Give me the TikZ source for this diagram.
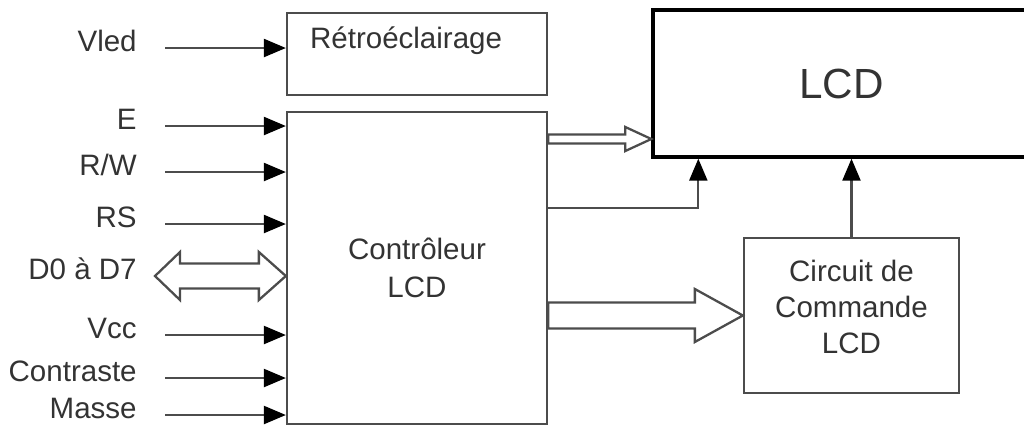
\documentclass[tikz,border=0pt]{standalone}
\usepackage{fontspec}
\setmainfont{Liberation Sans}
\usetikzlibrary{arrows.meta,calc}

\tikzset{
  box/.style={draw=black!70, line width=1.3pt, inner sep=0pt},
  lcdbox/.style={draw=black, line width=1.9pt, inner sep=0pt},
  sigl/.style={anchor=east, inner xsep=0pt, text height=0.72em, text depth=0.36em},
  sig/.style={draw=black!70, line width=1.3pt},
  bus/.style={draw=black!70, line width=1.3pt, fill=white, line join=miter}
}

\begin{document}
\begin{tikzpicture}[y=-1cm, >={Triangle[length=0.44cm,width=0.36cm,color=black]}, font=\fontsize{16.8}{21}\selectfont, text=black!80]
  \clip (0,0) rectangle (20.48,8.56);
  % blocks
  \node[box, minimum width=5.2cm, minimum height=1.64cm,
        label={[anchor=west, xshift=0.36cm, yshift=0.26cm]west:Rétroéclairage}] (retro) at (8.34,1.08) {};
  \node[box, minimum width=5.2cm, minimum height=6.24cm, align=center,
        font=\fontsize{16.8}{22}\selectfont] (ctrl) at (8.34,5.36) {Contrôleur\\LCD};
  \node[lcdbox, minimum width=7.54cm, minimum height=2.94cm,
        font=\fontsize{24}{28}\selectfont] (lcd) at (16.83,1.67) {LCD};
  \node[box, minimum width=4.3cm, minimum height=3.1cm,
        label={[align=center, yshift=0.18cm, font=\fontsize{16.8}{20.5}\selectfont]center:Circuit de\\Commande\\LCD}] (circ) at (17.03,6.31) {};
  % input signals
  \node[sigl] (vled) at (2.74,0.96) {Vled};
  \node[sigl] (en) at (2.74,2.52) {E};
  \node[sigl] (rw) at (2.74,3.44) {R/W};
  \node[sigl] (rs) at (2.74,4.48) {RS};
  \node[sigl] (d07) at (2.74,5.52) {D0 à D7};
  \node[sigl] (vcc) at (2.74,6.70) {Vcc};
  \node[sigl] (contr) at (2.74,7.56) {Contraste};
  \node[sigl] (masse) at (2.74,8.30) {Masse};
  \draw[sig,->, shorten <=0.56cm] (vled.east) -- (vled.east -| retro.west);
  \foreach \s in {en,rw,rs,vcc,contr,masse}
    \draw[sig,->, shorten <=0.56cm] (\s.east) -- (\s.east -| ctrl.west);
  % data bus D0..D7
  \draw[bus] ([xshift=0.36cm]d07.east) -- ++(0.5,-0.48) -- ++(0,0.23)
    -- ($(d07.east -| ctrl.west)+(-0.54,-0.25)$) -- ++(0,-0.23) -- (d07.east -| ctrl.west)
    -- ++(-0.54,0.48) -- ++(0,-0.23) -- ($(d07.east)+(0.86,0.25)$) -- ++(0,0.23) -- cycle;
  % controller to LCD
  \coordinate (b1) at (ctrl.east |- 0,2.78);
  \draw[bus] ($(b1)+(0,-0.09)$) -- ($(b1 -| lcd.west)+(-0.52,-0.09)$) -- ++(0,-0.15)
    -- (b1 -| lcd.west) -- ++(-0.52,0.24) -- ++(0,-0.15) -- ($(b1)+(0,0.09)$) -- cycle;
  \draw[sig,->] ([yshift=1.2cm]ctrl.east) -| ([xshift=0.94cm]lcd.south west);
  % controller to driver circuit
  \draw[bus] ($(ctrl.east |- circ.west)+(0,-0.26)$) -- ($(circ.west)+(-0.96,-0.26)$) -- ++(0,-0.27)
    -- (circ.west) -- ++(-0.96,0.53) -- ++(0,-0.27) -- ($(ctrl.east |- circ.west)+(0,0.26)$) -- cycle;
  \draw[sig,->] (circ.north) -- (circ.north |- lcd.south);
\end{tikzpicture}
\end{document}
